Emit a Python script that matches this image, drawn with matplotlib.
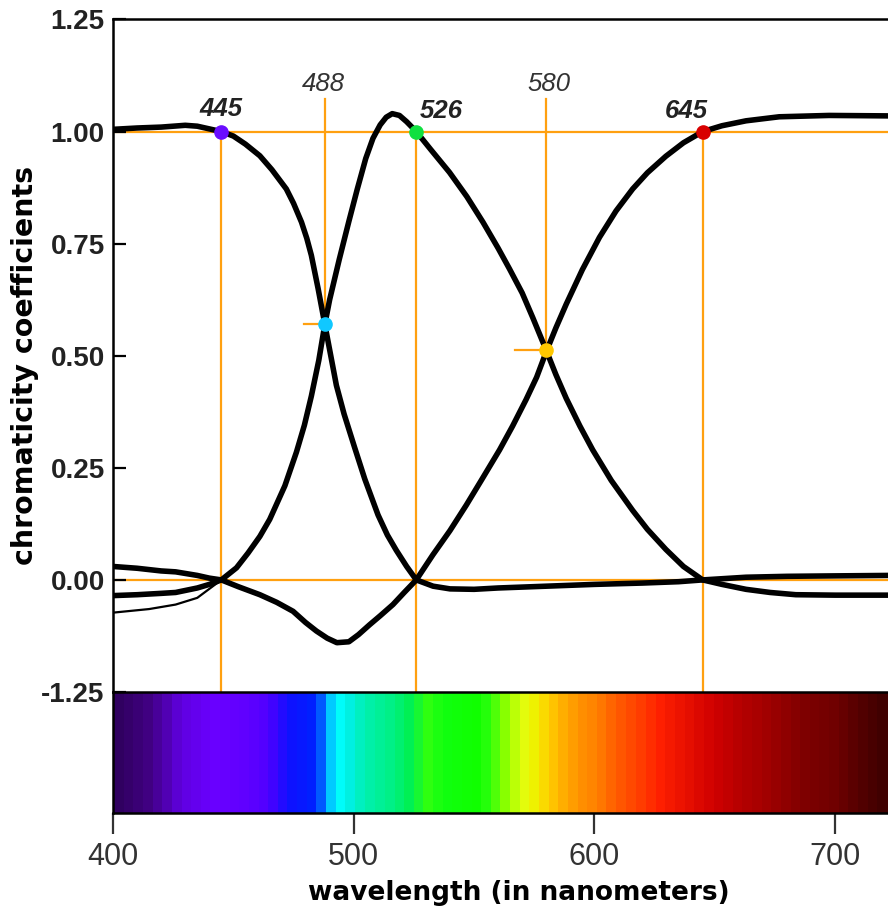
import numpy as np
import matplotlib
matplotlib.use('Agg')
import matplotlib.pyplot as plt
from matplotlib.colors import LinearSegmentedColormap, Normalize

# chromaticity coefficient curves
v_nm = [400, 410, 420, 430, 435, 440, 445, 450, 455, 461, 466, 472, 475, 478.3, 480.5, 482.4, 485.2,
        488, 492.8, 496, 500.4, 504.6, 510.1, 514, 517.7, 522, 526, 533, 540, 550, 560, 580, 600,
        620, 635, 645, 663, 680, 700, 722]
v_val = [1.005, 1.008, 1.01, 1.014, 1.012, 1.006, 1.0, 0.99, 0.972, 0.946, 0.915, 0.872, 0.84, 0.798,
         0.762, 0.724, 0.65, 0.57, 0.434, 0.37, 0.295, 0.225, 0.145, 0.1, 0.066, 0.03, 0.0, -0.014,
         -0.02, -0.021, -0.018, -0.014, -0.01, -0.007, -0.004, 0.0, 0.006, 0.008, 0.009, 0.01]

g_nm = [400, 410, 420, 426, 435, 440, 445, 451.3, 456.1, 461, 465.1, 471.4, 476.2, 479.5, 482.4,
        485.5, 488, 490, 494, 498, 501.5, 505, 508, 511, 513.5, 516, 519, 522, 526, 532, 539.8, 547,
        553.7, 560, 564.7, 570, 574.4, 580, 584, 588.3, 594, 599.3, 607, 615.9, 622, 629.7, 637,
        645, 653, 663, 673, 683.7, 700, 722]
g_val = [-0.035, -0.033, -0.03, -0.028, -0.018, -0.01, 0.0, 0.027, 0.06, 0.097, 0.135, 0.21, 0.285,
         0.345, 0.41, 0.49, 0.57, 0.625, 0.715, 0.8, 0.872, 0.94, 0.985, 1.015, 1.032, 1.04, 1.036,
         1.022, 1.0, 0.96, 0.909, 0.855, 0.798, 0.74, 0.694, 0.64, 0.585, 0.512, 0.458, 0.405, 0.343,
         0.29, 0.222, 0.155, 0.113, 0.068, 0.03, 0.0, -0.01, -0.021, -0.028, -0.033, -0.034, -0.034]

g_low_nm = [400, 415, 426, 435, 440, 445]
g_low_val = [-0.073, -0.065, -0.055, -0.04, -0.02, 0.0]

r_nm = [400, 410, 420, 426, 435, 440, 445, 452, 461, 468, 474.8, 480, 484.5, 489, 493, 498, 502,
        506.6, 511, 516.3, 521, 526, 532.9, 540, 546.8, 553, 560.6, 566, 571.6, 576, 580, 584,
        588.3, 595, 602.1, 609, 615.9, 622, 629.7, 637, 645, 653, 663, 676.8, 697.5, 722]
r_val = [0.03, 0.026, 0.02, 0.018, 0.01, 0.004, 0.0, -0.015, -0.033, -0.05, -0.07, -0.095, -0.114,
         -0.13, -0.14, -0.138, -0.122, -0.1, -0.08, -0.055, -0.028, 0.0, 0.056, 0.11, 0.167, 0.222,
         0.29, 0.343, 0.402, 0.452, 0.509, 0.562, 0.615, 0.692, 0.764, 0.823, 0.872, 0.908, 0.945,
         0.975, 1.0, 1.013, 1.024, 1.033, 1.036, 1.035]

# marked wavelengths
prim_nm = [445, 526, 645]
prim_col = ['#6a0dff', '#10e040', '#d80000']
cross_nm = [488, 580]
cross_val = [0.57, 0.512]
cross_col = ['#10c8ff', '#ffc800']

# spectrum strip colours
spec_nm = [400, 412, 420, 426, 440, 454, 463, 472, 482, 486, 489, 493, 498, 504, 516, 523, 530, 537,
           551, 557, 561, 565, 570, 576, 581, 587, 595, 602, 609, 619, 628, 639, 651, 661, 674, 688,
           702, 711, 722]
spec_hex = ['#300060', '#400080', '#5000b0', '#6000e0', '#6a00ff', '#6000ff', '#5000ff', '#1010ff',
            '#0020ff', '#0060ff', '#00c0ff', '#00ffff', '#00f0e0', '#00f0b0', '#00f080', '#00f050',
            '#30ff10', '#10ff10', '#10ff00', '#30ff10', '#70ff00', '#a0ff00', '#e0ff10', '#f0f000',
            '#ffd000', '#ffb000', '#ff9000', '#ff8000', '#ff6000', '#ff4000', '#ff2000', '#e81000',
            '#d00000', '#b80000', '#a00000', '#800000', '#700000', '#580000', '#400000']

y_ticks = [-0.25, 0.0, 0.25, 0.5, 0.75, 1.0, 1.25]
y_labels = ['-1.25', '0.00', '0.25', '0.50', '0.75', '1.00', '1.25']
x_ticks = [400, 500, 600, 700]

XMIN, XMAX = 400, 722
ORANGE = '#ffa010'

fig = plt.figure(figsize=(8.88, 9.11), dpi=100)
ax = fig.add_axes([0.1273, 0.2404, 0.8727, 0.7382])
sp = fig.add_axes([0.1273, 0.1076, 0.8727, 0.1328])

# orange guide lines
ax.axhline(1.0, color=ORANGE, lw=1.6, zorder=1)
ax.axhline(0.0, color=ORANGE, lw=1.6, zorder=1)
for w in prim_nm:
    ax.plot([w, w], [-0.25, 1.0], color=ORANGE, lw=1.6, zorder=1)
for w, v, L in zip(cross_nm, cross_val, [8.5, 13]):
    ax.plot([w, w], [v, 1.072], color=ORANGE, lw=1.6, zorder=1)
    ax.plot([w - L, w], [v, v], color=ORANGE, lw=1.6, zorder=1)

# curves
for xs, ys in [(v_nm, v_val), (g_nm, g_val), (r_nm, r_val)]:
    ax.plot(xs, ys, color='black', lw=4.0, solid_capstyle='round', solid_joinstyle='round', zorder=3)
ax.plot(g_low_nm, g_low_val, color='black', lw=1.6, zorder=3)

# dots
for w, c in zip(prim_nm, prim_col):
    ax.plot(w, 1.0, 'o', ms=9.5, color=c, zorder=5)
for w, v, c in zip(cross_nm, cross_val, cross_col):
    ax.plot(w, v, 'o', ms=9.5, color=c, zorder=5)

lab_font = ['Liberation Sans', 'DejaVu Sans']
ax.text(445, 1.035, '445', ha='center', va='baseline', fontsize=18.5, style='italic',
        weight='bold', color='#222222', family=lab_font)
ax.text(527.5, 1.03, '526', ha='left', va='baseline', fontsize=18.5, style='italic',
        weight='bold', color='#222222', family=lab_font)
ax.text(647, 1.03, '645', ha='right', va='baseline', fontsize=18.5, style='italic',
        weight='bold', color='#222222', family=lab_font)
ax.text(487.5, 1.09, '488', ha='center', va='baseline', fontsize=18.5, style='italic',
        color='#333333', family=lab_font)
ax.text(581, 1.09, '580', ha='center', va='baseline', fontsize=18.5, style='italic',
        color='#333333', family=lab_font)

ax.set_xlim(XMIN, XMAX)
ax.set_ylim(-0.25, 1.25)
ax.set_yticks(y_ticks)
ax.set_yticklabels(y_labels, family=lab_font, fontsize=20, weight='bold', color='#222222')
ax.tick_params(axis='y', direction='in', length=9, width=1.6, pad=6)
ax.set_xticks([])
for s in ['top', 'left']:
    ax.spines[s].set_linewidth(1.8)
ax.spines['right'].set_visible(False)
ax.spines['bottom'].set_visible(False)
ax.set_ylabel('chromaticity coefficients', fontsize=20.5, weight='bold', family='DejaVu Sans')
ax.yaxis.set_label_coords(-0.096, 0.486)

# spectrum strip
cmap = LinearSegmentedColormap.from_list(
    'spec', [((w - XMIN) / (XMAX - XMIN), c) for w, c in zip(spec_nm, spec_hex)], N=80)
wl = np.linspace(XMIN, XMAX, 644)
sp.imshow(wl[None, :], cmap=cmap, norm=Normalize(XMIN, XMAX), aspect='auto',
          extent=[XMIN, XMAX, 0, 1], interpolation='nearest')
sp.set_xlim(XMIN, XMAX)
sp.set_ylim(0, 1)
sp.set_yticks([])
sp.set_xticks(x_ticks)
sp.set_xticklabels([str(t) for t in x_ticks], family=lab_font, fontsize=22, color='#333333')
sp.tick_params(axis='x', direction='out', length=15, width=1.6, color='#333333', pad=6)
for s in ['top', 'left', 'bottom']:
    sp.spines[s].set_linewidth(1.8)
sp.spines['right'].set_visible(False)
sp.set_xlabel('wavelength (in nanometers)', fontsize=19, weight='bold', family='DejaVu Sans')
sp.xaxis.set_label_coords(0.524, -0.55)

fig.savefig('out.png', dpi=100, facecolor='white')
